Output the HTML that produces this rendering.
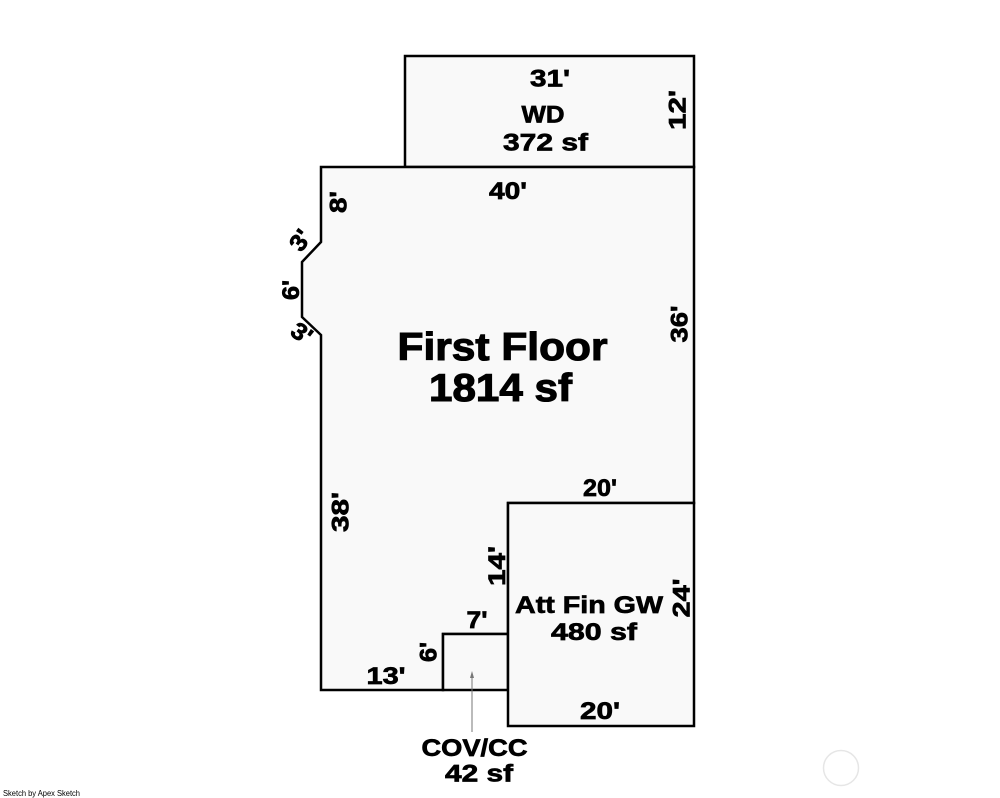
<!DOCTYPE html>
<html><head><meta charset="utf-8"><style>
html,body{margin:0;padding:0;background:#fff;}
svg{display:block;}
text{font-family:"Liberation Sans",Arial,sans-serif;font-weight:bold;fill:#000;}
</style></head><body>
<svg width="1000" height="798" viewBox="0 0 1000 798" xmlns="http://www.w3.org/2000/svg">
<rect width="1000" height="798" fill="#fff"/>
<g fill="#f9f9f9" stroke="#000" stroke-width="2.5" stroke-linejoin="miter">
<rect x="405" y="56" width="289" height="111"/>
<polygon points="321,167 694,167 694,503 508,503 508,634 443,634 443,690 321,690 321,335 302,317 302,262 321,242"/>
<rect x="443" y="634" width="65" height="56"/>
<rect x="508" y="503" width="186" height="223"/>
</g>
<!-- arrow -->
<line x1="472" y1="677" x2="472" y2="732" stroke="#777" stroke-width="1"/>
<polygon points="472,671 470,678 474,678" fill="#777"/>
<!-- circle -->
<circle cx="841" cy="768" r="17.5" fill="none" stroke="#e6e6e6" stroke-width="1.5"/>

<g font-size="24" stroke="#000" stroke-width="0.7">
<text x="550" y="86.5" text-anchor="middle" textLength="40" lengthAdjust="spacingAndGlyphs">31'</text>
<text x="543" y="122.5" text-anchor="middle" textLength="43" lengthAdjust="spacingAndGlyphs">WD</text>
<text x="545.5" y="150.5" text-anchor="middle" textLength="85" lengthAdjust="spacingAndGlyphs">372 sf</text>
<text x="508" y="199" text-anchor="middle" textLength="38" lengthAdjust="spacingAndGlyphs">40'</text>
<text x="600" y="496" text-anchor="middle" textLength="34" lengthAdjust="spacingAndGlyphs">20'</text>
<text x="589" y="613" text-anchor="middle" textLength="148" lengthAdjust="spacingAndGlyphs">Att Fin GW</text>
<text x="594" y="640" text-anchor="middle" textLength="86" lengthAdjust="spacingAndGlyphs">480 sf</text>
<text x="477" y="628" text-anchor="middle" textLength="21" lengthAdjust="spacingAndGlyphs">7'</text>
<text x="386" y="684" text-anchor="middle" textLength="39" lengthAdjust="spacingAndGlyphs">13'</text>
<text x="600" y="719" text-anchor="middle" textLength="40" lengthAdjust="spacingAndGlyphs">20'</text>
<text x="474.5" y="756" text-anchor="middle" textLength="106" lengthAdjust="spacingAndGlyphs">COV/CC</text>
<text x="479" y="781.5" text-anchor="middle" textLength="68" lengthAdjust="spacingAndGlyphs">42 sf</text>

<!-- rotated -->
<text x="677" y="118.5" text-anchor="middle" transform="rotate(-90 677 110)" textLength="40" lengthAdjust="spacingAndGlyphs">12'</text>
<text x="679" y="332.5" text-anchor="middle" transform="rotate(-90 679 324)" textLength="37" lengthAdjust="spacingAndGlyphs">36'</text>
<text x="338" y="210.5" text-anchor="middle" transform="rotate(-90 338 202)" textLength="22" lengthAdjust="spacingAndGlyphs">8'</text>
<text x="290.5" y="298.5" text-anchor="middle" transform="rotate(-90 290.5 290)" textLength="20" lengthAdjust="spacingAndGlyphs">6'</text>
<text x="300" y="248.5" text-anchor="middle" transform="rotate(-55 300 240)" textLength="20" lengthAdjust="spacingAndGlyphs">3'</text>
<text x="302" y="341.5" text-anchor="middle" transform="rotate(35 302 333)" textLength="20" lengthAdjust="spacingAndGlyphs">3'</text>
<text x="340" y="520.5" text-anchor="middle" transform="rotate(-90 340 512)" textLength="40" lengthAdjust="spacingAndGlyphs">38'</text>
<text x="496.5" y="574.5" text-anchor="middle" transform="rotate(-90 496.5 566)" textLength="40" lengthAdjust="spacingAndGlyphs">14'</text>
<text x="681" y="606.5" text-anchor="middle" transform="rotate(-90 681 598)" textLength="39" lengthAdjust="spacingAndGlyphs">24'</text>
<text x="428" y="660.5" text-anchor="middle" transform="rotate(-90 428 652)" textLength="20" lengthAdjust="spacingAndGlyphs">6'</text>
</g>

<g font-size="39" stroke="#000" stroke-width="1.1">
<text x="502.5" y="360" text-anchor="middle" textLength="210" lengthAdjust="spacingAndGlyphs">First Floor</text>
<text x="500.5" y="401" text-anchor="middle" textLength="143" lengthAdjust="spacingAndGlyphs">1814 sf</text>
</g>

<text x="3" y="796" font-size="8" style="font-weight:normal" textLength="77" lengthAdjust="spacingAndGlyphs">Sketch by Apex Sketch</text>
</svg>
</body></html>
